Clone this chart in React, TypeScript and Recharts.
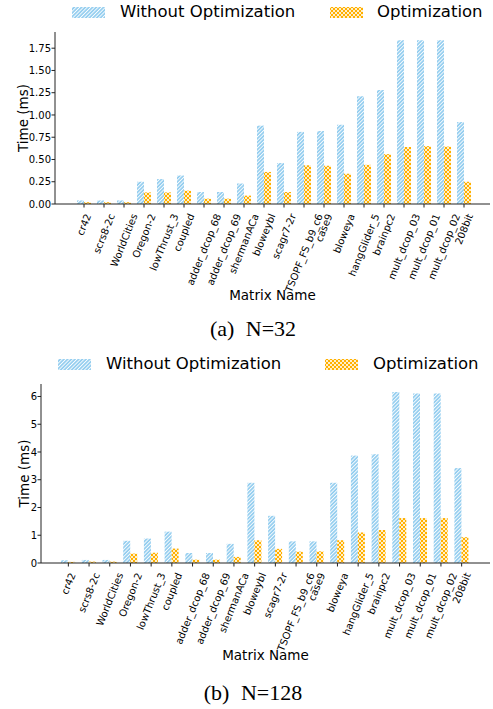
import React from 'react';
import { BarChart, Bar, XAxis, YAxis, Legend } from 'recharts';

const categories = [
  'cr42', 'scrs8-2c', 'WorldCities', 'Oregon-2', 'lowThrust_3', 'coupled',
  'adder_dcop_68', 'adder_dcop_69', 'shermanACa', 'bloweybl', 'scagr7-2r',
  'TSOPF_FS_b9_c6', 'case9', 'bloweya', 'hangGlider_5', 'brainpc2',
  'mult_dcop_03', 'mult_dcop_01', 'mult_dcop_02', '208bit',
];

const n32Without = [0.04, 0.04, 0.04, 0.25, 0.28, 0.32, 0.135, 0.135, 0.23, 0.88, 0.46, 0.81, 0.82, 0.89, 1.21, 1.28, 1.84, 1.84, 1.84, 0.92];
const n32With = [0.02, 0.02, 0.02, 0.13, 0.13, 0.15, 0.06, 0.06, 0.094, 0.36, 0.135, 0.435, 0.43, 0.34, 0.44, 0.56, 0.64, 0.65, 0.645, 0.25];
const n128Without = [0.1, 0.11, 0.11, 0.8, 0.88, 1.13, 0.36, 0.36, 0.69, 2.89, 1.7, 0.78, 0.78, 2.89, 3.87, 3.92, 6.16, 6.11, 6.11, 3.42];
const n128With = [0.04, 0.05, 0.05, 0.34, 0.37, 0.52, 0.12, 0.12, 0.22, 0.82, 0.51, 0.41, 0.42, 0.82, 1.1, 1.19, 1.62, 1.62, 1.62, 0.93];

const n32Ticks = [0, 0.25, 0.5, 0.75, 1.0, 1.25, 1.5, 1.75];
const n128Ticks = [0, 1, 2, 3, 4, 5, 6];

const BLUE = '#92cdef';
const ORANGE = '#ffb000';
const FONT = '"DejaVu Sans", sans-serif';
const ANGLE = 68;

let ctx: CanvasRenderingContext2D | null = null;
const textWidth = (s: string, font: string) => {
  if (!ctx) ctx = document.createElement('canvas').getContext('2d');
  if (!ctx) return s.length * 6;
  ctx.font = font;
  return ctx.measureText(s).width;
};

const Patterns = ({ id }: { id: string }) => (
  <defs>
    <pattern id={`${id}-hatch`} patternUnits="userSpaceOnUse" width="2.6" height="2.6" patternTransform="rotate(45)">
      <rect width="2.6" height="2.6" fill={BLUE} />
      <line x1="0.5" y1="0" x2="0.5" y2="2.6" stroke="#fff" strokeWidth="0.9" />
    </pattern>
    <pattern id={`${id}-cross`} patternUnits="userSpaceOnUse" width="4" height="4">
      <rect width="4" height="4" fill={ORANGE} />
      <path d="M0,0 L4,4 M4,0 L0,4" stroke="#fff" strokeWidth="0.8" />
    </pattern>
  </defs>
);

const RotTick = (props: any) => {
  const { x, y, payload } = props;
  const fs = 10;
  const a = (ANGLE * Math.PI) / 180;
  const L = textWidth(payload.value, `${fs}px "DejaVu Sans"`);
  const h = fs * 1.16;
  const bh = L * Math.sin(a) + h * Math.cos(a);
  const cy = y + 1.5 + bh / 2;
  return (
    <text x={x} y={cy} textAnchor="middle" dominantBaseline="central" fontSize={fs}
      fontFamily={FONT} fill="#000" transform={`rotate(-${ANGLE}, ${x}, ${cy})`}>
      {payload.value}
    </text>
  );
};

const XTitle = (props: any) => {
  const vb = props.viewBox || { x: 0, width: 0 };
  return (
    <text x={vb.x + vb.width / 2} y={props.ty} textAnchor="middle" dominantBaseline="central"
      fontSize={13.5} fontFamily={FONT} fill="#000">Matrix Name</text>
  );
};

const YTitle = (props: any) => {
  const vb = props.viewBox || { y: 0, height: 0 };
  const cy = vb.y + vb.height / 2;
  return (
    <text x={props.tx} y={cy} textAnchor="middle" dominantBaseline="central" fontSize={13.5}
      fontFamily={FONT} fill="#000" transform={`rotate(-90, ${props.tx}, ${cy})`}>Time (ms)</text>
  );
};

const Swatch = ({ id, kind }: { id: string; kind: 'hatch' | 'cross' }) => (
  <svg width={33} height={11} style={{ display: 'block' }}>
    <Patterns id={`${id}-lg`} />
    <rect width={33} height={11} fill={`url(#${id}-lg-${kind})`} />
  </svg>
);

const LegendBox = ({ id, pos, cy }: { id: string; pos: number[]; cy: number }) => {
  const txt: React.CSSProperties = {
    position: 'absolute', top: cy - 10, lineHeight: '20px', fontSize: 16.5,
    fontFamily: FONT, color: '#000', whiteSpace: 'nowrap',
  };
  return (
    <div style={{ position: 'relative', width: 493, height: 30 }}>
      <div style={{ position: 'absolute', left: pos[0], top: cy - 5.5 }}><Swatch id={`${id}a`} kind="hatch" /></div>
      <span style={{ ...txt, left: pos[1] }}>Without Optimization</span>
      <div style={{ position: 'absolute', left: pos[2], top: cy - 5.5 }}><Swatch id={`${id}b`} kind="cross" /></div>
      <span style={{ ...txt, left: pos[3] }}>Optimization</span>
    </div>
  );
};

interface PanelProps {
  id: string;
  top: number;
  height: number;
  marginTop: number;
  yWidth: number;
  xHeight: number;
  without: number[];
  withOpt: number[];
  domainMax: number;
  ticks: number[];
  fmt: (v: number) => string;
  padding: { left: number; right: number };
  legendPos: number[];
  legendY: number;
  titleY: number;
  yTitleX: number;
  caption: string;
  captionY: number;
}

const Panel = (p: PanelProps) => {
  const data = categories.map((name, i) => ({ name, without: p.without[i], opt: p.withOpt[i] }));
  const tickStyle = { fontSize: 10, fontFamily: FONT, fill: '#000' };
  return (
    <>
      <div style={{ position: 'absolute', left: 0, top: p.top }}>
        <BarChart width={493} height={p.height} data={data}
          margin={{ top: p.marginTop, right: 3, bottom: 0, left: 0 }}
          barCategoryGap="15%" barGap={0}>
          <Patterns id={p.id} />
          <XAxis dataKey="name" interval={0} height={p.xHeight} padding={p.padding}
            tick={<RotTick />} tickSize={3.5} tickMargin={3}
            axisLine={{ stroke: '#222' }} tickLine={{ stroke: '#222' }}
            label={<XTitle ty={p.titleY} />} />
          <XAxis xAxisId="frame" orientation="top" dataKey="name" height={0} tick={false}
            tickLine={false} axisLine={{ stroke: '#222' }} padding={p.padding} />
          <YAxis width={p.yWidth} domain={[0, p.domainMax]} ticks={p.ticks} tickFormatter={p.fmt}
            tick={tickStyle} tickSize={3.5} tickMargin={0.5}
            axisLine={{ stroke: '#222' }} tickLine={{ stroke: '#222' }}
            label={<YTitle tx={p.yTitleX} />} />
          <YAxis yAxisId="frame" orientation="right" width={0} domain={[0, p.domainMax]}
            tick={false} tickLine={false} axisLine={{ stroke: '#222' }} />
          <Legend verticalAlign="middle" wrapperStyle={{ top: 0, left: 0, width: 493, height: 30 }}
            content={() => <LegendBox id={p.id} pos={p.legendPos} cy={p.legendY} />} />
          <Bar dataKey="without" name="Without Optimization" fill={`url(#${p.id}-hatch)`} isAnimationActive={false} />
          <Bar dataKey="opt" name="Optimization" fill={`url(#${p.id}-cross)`} isAnimationActive={false} />
        </BarChart>
      </div>
      <div style={{
        position: 'absolute', left: 0, width: 506, top: p.captionY - 13, lineHeight: '26px',
        textAlign: 'center', fontFamily: '"Liberation Serif", "Times New Roman", serif',
        fontSize: 22, color: '#000', wordSpacing: 6,
      }}>{p.caption}</div>
    </>
  );
};

export default function App() {
  return (
    <div style={{ position: 'absolute', left: 0, top: 0, width: 493, height: 709, background: '#fff' }}>
      <Panel id="n32" top={0} height={310} marginTop={32} yWidth={55} xHeight={106}
        without={n32Without} withOpt={n32With} domainMax={1.932} ticks={n32Ticks}
        fmt={(v) => v.toFixed(2)} padding={{ left: 19, right: 16 }}
        legendPos={[72, 120, 330, 377]} legendY={12} titleY={295} yTitleX={23}
        caption="(a) N=32" captionY={329} />
      <Panel id="n128" top={345} height={320} marginTop={39} yWidth={41} xHeight={102}
        without={n128Without} withOpt={n128With} domainMax={6.45} ticks={n128Ticks}
        fmt={(v) => String(v)} padding={{ left: 17, right: 18 }}
        legendPos={[58, 106, 325, 373]} legendY={19} titleY={310} yTitleX={24}
        caption="(b) N=128" captionY={693} />
    </div>
  );
}
